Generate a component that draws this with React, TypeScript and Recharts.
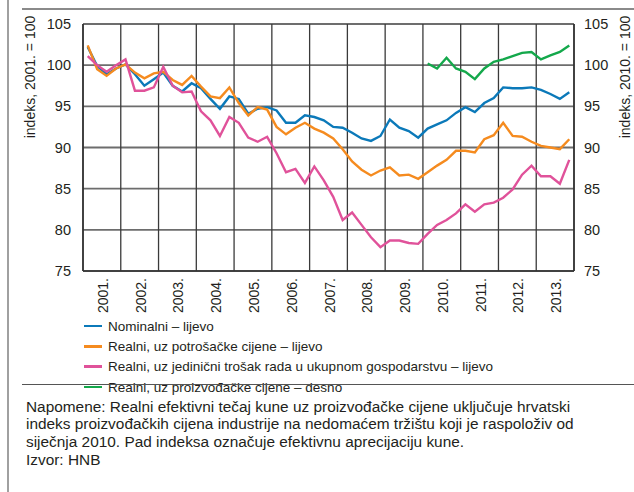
import React from 'react';
import { LineChart, Line, XAxis, YAxis, CartesianGrid, ReferenceLine } from 'recharts';

// tromjesečni podaci, 2001. - 2013.
const years = ['2001.', '2002.', '2003.', '2004.', '2005.', '2006.', '2007.', '2008.', '2009.', '2010.', '2011.', '2012.', '2013.'];

const nominal = [
  102.2, 99.9, 98.9, 99.6, 100.1, 98.9, 97.5, 98.3, 99.1, 97.5, 96.8, 97.8,
  97.2, 95.9, 94.7, 96.2, 95.9, 94.1, 94.7, 94.9, 94.5, 93.0, 93.0, 93.9,
  93.7, 93.3, 92.5, 92.4, 91.8, 91.1, 90.8, 91.4, 93.4, 92.4, 92.0, 91.2,
  92.3, 92.8, 93.3, 94.2, 94.9, 94.3, 95.4, 96.0, 97.3, 97.2, 97.2, 97.3,
  97.0, 96.5, 95.9, 96.7,
];

const realCpi = [
  102.4, 99.5, 98.7, 99.6, 100.1, 99.1, 98.4, 99.0, 99.2, 98.2, 97.6, 98.7,
  97.4, 96.2, 96.0, 97.3, 95.4, 93.9, 94.9, 94.6, 92.5, 91.6, 92.4, 93.0,
  92.3, 91.8, 91.1, 89.8, 88.3, 87.3, 86.6, 87.2, 87.6, 86.6, 86.7, 86.2,
  87.0, 87.8, 88.5, 89.6, 89.6, 89.4, 91.0, 91.5, 93.0, 91.4, 91.3, 90.7,
  90.2, 90.0, 89.8, 91.0,
];

const realUlc = [
  101.1, 100.0, 99.2, 100.0, 100.7, 96.9, 96.9, 97.3, 99.8, 97.5, 96.7, 96.8,
  94.4, 93.3, 91.4, 93.7, 93.0, 91.2, 90.7, 91.3, 89.3, 87.0, 87.4, 85.7,
  87.7, 86.0, 84.0, 81.2, 82.1, 80.6, 79.1, 77.9, 78.7, 78.7, 78.4, 78.3,
  79.5, 80.6, 81.2, 82.0, 83.1, 82.2, 83.1, 83.3, 83.9, 84.9, 86.7, 87.8,
  86.5, 86.5, 85.6, 88.5,
];

// od 1. tromjesečja 2010.
const ppiStartYear = '2010.';
const realPpi = [100.2, 99.6, 100.9, 99.6, 99.2, 98.3, 99.6, 100.4, 100.7, 101.1, 101.5, 101.6, 100.7, 101.2, 101.6, 102.4];

const yTicks = [75, 80, 85, 90, 95, 100, 105];

const seriesNames = [
  'Nominalni – lijevo',
  'Realni, uz potrošačke cijene – lijevo',
  'Realni, uz jedinični trošak rada u ukupnom gospodarstvu – lijevo',
  'Realni, uz proizvođačke cijene – desno',
];
const colors = ['#0b79b9', '#f58b1f', '#e0529a', '#14a84b'];

const leftLabel = 'indeks, 2001. = 100';
const rightLabel = 'indeks, 2010. = 100';
const notes = [
  'Napomene: Realni efektivni tečaj kune uz proizvođačke cijene uključuje hrvatski',
  'indeks proizvođačkih cijena industrije na nedomaćem tržištu koji je raspoloživ od',
  'siječnja 2010. Pad indeksa označuje efektivnu aprecijaciju kune.',
];
const source = 'Izvor: HNB';

const ppiOffset = years.indexOf(ppiStartYear) * 4;
const data = nominal.map((v, i) => ({
  q: i + 0.5,
  nominal: v,
  cpi: realCpi[i],
  ulc: realUlc[i],
  ppi: i >= ppiOffset ? realPpi[i - ppiOffset] : null,
}));

const nQ = years.length * 4;
const yearCenters = years.map((_, k) => k * 4 + 2);
const yearBounds = Array.from({ length: years.length + 1 }, (_, k) => k * 4);

const textColor = '#231f20';
const font = "'Liberation Sans', Arial, sans-serif";

function YearTick(props: any) {
  const { x, y, payload } = props;
  const label = years[Math.floor(payload.value / 4)];
  return (
    <text
      x={x + 1}
      y={y}
      transform={`rotate(-90 ${x + 1} ${y})`}
      textAnchor="end"
      dominantBaseline="central"
      fill={textColor}
      fontSize={14}
      fontFamily={font}
    >
      {label}
    </text>
  );
}

const keys = ['nominal', 'cpi', 'ulc', 'ppi'];

export default function App() {
  return (
    <div style={{ position: 'absolute', left: 0, top: 0, width: 634, height: 492, overflow: 'hidden', background: '#fff', fontFamily: font, color: textColor }}>
      <div style={{ position: 'absolute', left: 7, top: 0, width: 1.5, height: 492, background: '#a0a0a0' }} />
      <div style={{ position: 'absolute', left: 22, top: 8, width: 612, height: 1.5, background: '#8a8a8a' }} />

      <div style={{ position: 'absolute', left: 0, top: 0 }}>
        <LineChart width={634} height={320} data={data} margin={{ top: 24, right: 0, bottom: 0, left: 0 }}>
          <CartesianGrid xAxisId="x" yAxisId="left" vertical={false} stroke="#6d6d6d" strokeWidth={1.8} />
          <XAxis
            xAxisId="x"
            dataKey="q"
            type="number"
            domain={[0, nQ]}
            ticks={yearCenters}
            interval={0}
            tick={<YearTick />}
            tickLine={false}
            tickMargin={1}
            axisLine={{ stroke: '#333', strokeWidth: 1.6 }}
            height={49}
          />
          <YAxis
            yAxisId="left"
            domain={[75, 105]}
            ticks={yTicks}
            interval={0}
            width={83}
            tickLine={false}
            tickMargin={6}
            axisLine={{ stroke: '#333', strokeWidth: 1.6 }}
            tick={{ fill: textColor, fontSize: 14.5, fontFamily: font }}
          />
          <YAxis
            yAxisId="right"
            orientation="right"
            domain={[75, 105]}
            ticks={yTicks}
            interval={0}
            width={60}
            tickLine={false}
            tickMargin={4}
            axisLine={{ stroke: '#333', strokeWidth: 1.6 }}
            tick={{ fill: textColor, fontSize: 14.5, fontFamily: font, textAnchor: 'start' }}
          />
          {yearBounds.map((b) => (
            <ReferenceLine key={b} xAxisId="x" yAxisId="left" x={b} stroke="#3a3a3a" strokeWidth={1.3} />
          ))}
          {keys.map((k, i) => (
            <Line
              key={k}
              xAxisId="x"
              yAxisId={k === 'ppi' ? 'right' : 'left'}
              type="linear"
              dataKey={k}
              stroke={colors[i]}
              strokeWidth={2.4}
              dot={false}
              isAnimationActive={false}
            />
          ))}
        </LineChart>
      </div>

      <div style={{ position: 'absolute', left: 30, top: 77, transform: 'translate(-50%, -50%) rotate(-90deg)', whiteSpace: 'nowrap', fontSize: 14 }}>
        {leftLabel}
      </div>
      <div style={{ position: 'absolute', left: 625, top: 77, transform: 'translate(-50%, -50%) rotate(-90deg)', whiteSpace: 'nowrap', fontSize: 14 }}>
        {rightLabel}
      </div>

      <div style={{ position: 'absolute', left: 84, top: 316 }}>
        {seriesNames.map((name, i) => (
          <div key={name} style={{ display: 'flex', alignItems: 'center', height: 20.3, fontSize: 13.5, whiteSpace: 'nowrap' }}>
            <span style={{ display: 'inline-block', width: 18, height: 2.5, background: colors[i], marginRight: 6 }} />
            {name}
          </div>
        ))}
      </div>
      <div style={{ position: 'absolute', left: 22, top: 383.5, width: 612, height: 1.5, background: '#555' }} />

      <div style={{ position: 'absolute', left: 26, top: 398, fontSize: 15.4, lineHeight: '17.3px', whiteSpace: 'nowrap' }}>
        {notes.map((l) => (
          <div key={l}>{l}</div>
        ))}
        <div style={{ marginTop: 1 }}>{source}</div>
      </div>
    </div>
  );
}
